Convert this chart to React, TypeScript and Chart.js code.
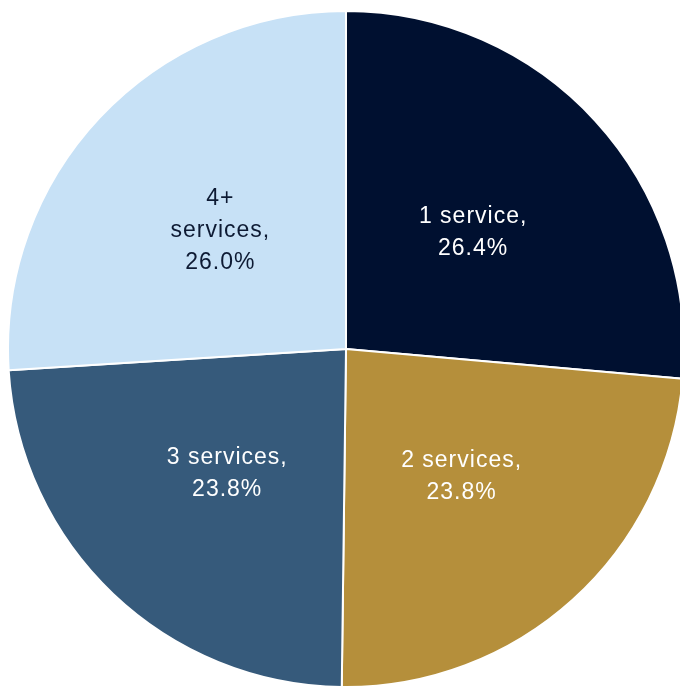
import React, { useEffect, useRef } from "react";
import { Chart, registerables } from "chart.js";

Chart.register(...registerables);

const categories = ["1 service", "2 services", "3 services", "4+ services"];
const values = [26.4, 23.8, 23.8, 26.0];
const colors = ["#001030", "#b58f3b", "#365a7b", "#c7e1f6"];
const labelColors = ["#ffffff", "#ffffff", "#ffffff", "#0d1a33"];
const labelLines = [
  ["1 service,", "26.4%"],
  ["2 services,", "23.8%"],
  ["3 services,", "23.8%"],
  ["4+", "services,", "26.0%"],
];

const labelPlugin = {
  id: "sliceLabels",
  afterDatasetsDraw(chart: any) {
    const ctx = chart.ctx;
    const meta = chart.getDatasetMeta(0);
    ctx.save();
    ctx.font = '23px "Liberation Sans", Arial, sans-serif';
    (ctx as any).letterSpacing = "1px";
    ctx.textAlign = "center";
    ctx.textBaseline = "middle";
    meta.data.forEach((arc: any, i: number) => {
      const p = arc.getProps(["x", "y", "startAngle", "endAngle", "outerRadius"], true);
      const mid = (p.startAngle + p.endAngle) / 2;
      const r = p.outerRadius * 0.51;
      const cx = p.x + Math.cos(mid) * r;
      const cy = p.y + Math.sin(mid) * r;
      const lines = labelLines[i];
      const lh = 32;
      ctx.fillStyle = labelColors[i];
      lines.forEach((t, j) => {
        ctx.fillText(t, cx, cy + (j - (lines.length - 1) / 2) * lh);
      });
    });
    ctx.restore();
  },
};

export default function App() {
  const ref = useRef<HTMLCanvasElement>(null);
  useEffect(() => {
    if (!ref.current) return;
    const chart = new Chart(ref.current, {
      type: "pie",
      data: {
        labels: categories,
        datasets: [
          {
            data: values,
            backgroundColor: colors,
            borderColor: "#ffffff",
            borderWidth: 2,
          },
        ],
      },
      options: {
        responsive: false,
        animation: false,
        devicePixelRatio: 1,
        layout: { padding: 0 },
        plugins: {
          legend: { display: false },
          tooltip: { enabled: false },
        },
      },
      plugins: [labelPlugin],
    });
    return () => chart.destroy();
  }, []);
  return (
    <div style={{ position: "absolute", left: 7, top: 10, width: 678, height: 678 }}>
      <canvas ref={ref} width={678} height={678} />
    </div>
  );
}
